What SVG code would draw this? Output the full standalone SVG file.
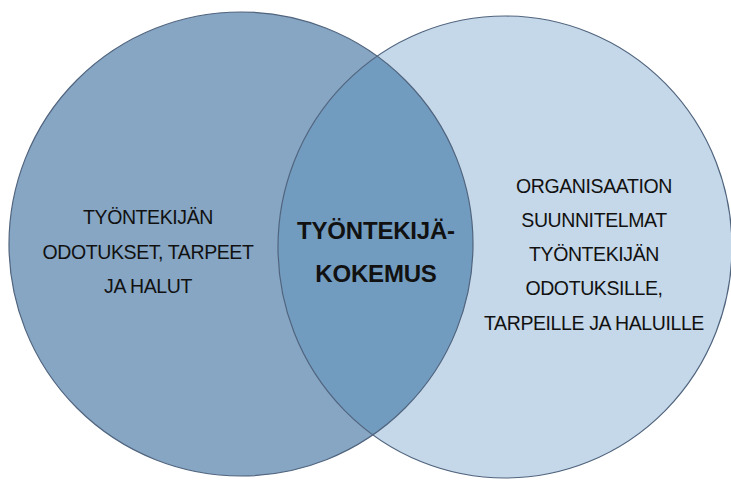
<svg xmlns="http://www.w3.org/2000/svg" width="731" height="480" viewBox="0 0 731 480">
<style>
.t{font-family:"Liberation Sans",Arial,sans-serif;font-size:19.5px;letter-spacing:-0.4px;fill:#111;text-anchor:middle}
.b{font-family:"Liberation Sans",Arial,sans-serif;font-size:24px;letter-spacing:-0.2px;font-weight:bold;fill:#111;text-anchor:middle}
.o{fill:none;stroke:#50647e;stroke-width:1.2}
</style>
<defs>
<clipPath id="cl"><ellipse cx="241" cy="244" rx="232" ry="232"/></clipPath>
</defs>
<rect width="731" height="480" fill="#fff"/>
<g id="left">
<ellipse cx="241" cy="244" rx="232" ry="232" fill="#86a6c4"/>
</g>
<g id="right">
<ellipse cx="505" cy="247" rx="227" ry="231" fill="#c5d8e9"/>
</g>
<g id="overlap">
<ellipse cx="505" cy="247" rx="227" ry="231" fill="#729cbf" clip-path="url(#cl)"/>
</g>
<g id="outlines">
<ellipse class="o" cx="241" cy="244" rx="232" ry="232"/>
<ellipse class="o" cx="505" cy="247" rx="227" ry="231"/>
</g>
<g id="left-text">
<text class="t" x="148" y="224">TYÖNTEKIJÄN</text>
<text class="t" x="148" y="259">ODOTUKSET, TARPEET</text>
<text class="t" x="148" y="293">JA HALUT</text>
</g>
<g id="center-text">
<text class="b" x="376" y="239">TYÖNTEKIJÄ-</text>
<text class="b" x="376" y="282">KOKEMUS</text>
</g>
<g id="right-text">
<text class="t" x="594" y="193">ORGANISAATION</text>
<text class="t" x="594" y="227">SUUNNITELMAT</text>
<text class="t" x="594" y="261">TYÖNTEKIJÄN</text>
<text class="t" x="594" y="295">ODOTUKSILLE,</text>
<text class="t" x="594" y="330">TARPEILLE JA HALUILLE</text>
</g>
</svg>
